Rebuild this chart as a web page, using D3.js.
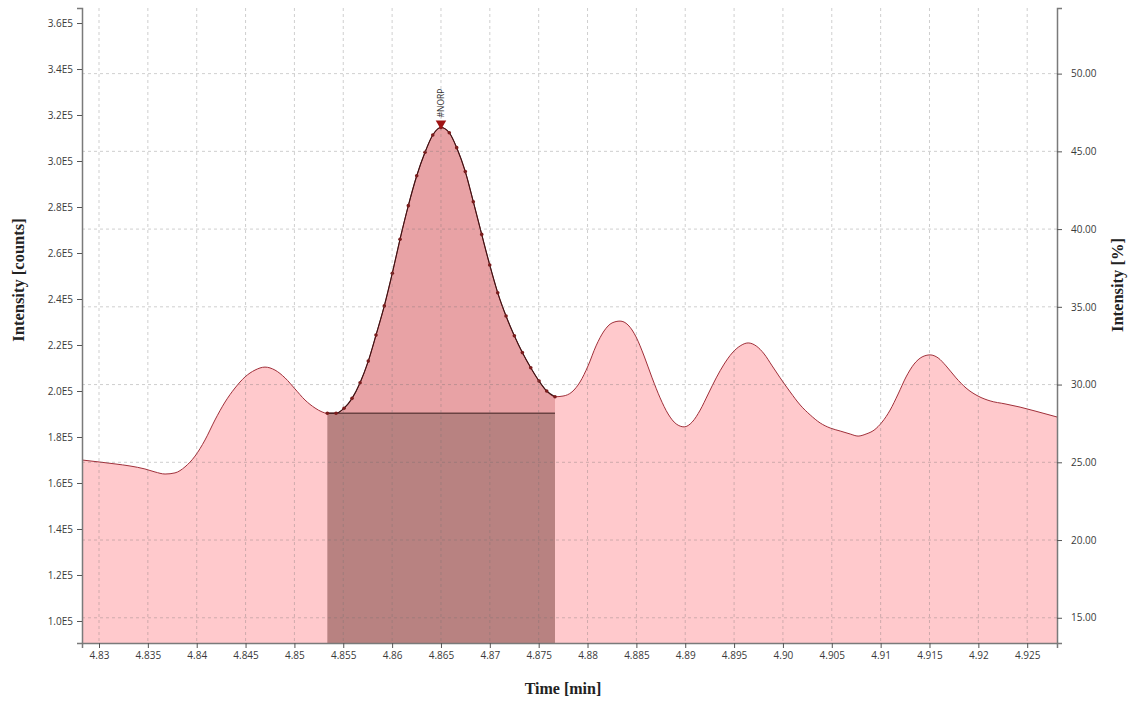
<!DOCTYPE html>
<html>
<head>
<meta charset="utf-8">
<script src="https://cdn.jsdelivr.net/npm/d3@7"></script>
<style>
  html, body { margin: 0; padding: 0; background: #ffffff; }
  svg { display: block; }
</style>
</head>
<body>
<svg id="chart" width="1141" height="702"></svg>
<script>
// ---- data ----
const timeMin = [
  4.82826, 4.8301, 4.83164, 4.83317, 4.8347, 4.83573, 4.83676, 4.83778, 4.8388, 4.83983,
  4.84085, 4.84187, 4.8429, 4.84392, 4.84494, 4.84597, 4.84699, 4.84801, 4.84904, 4.85006,
  4.85108, 4.85211, 4.85283,
  4.85337, 4.85426, 4.85508, 4.8559, 4.85672, 4.85756, 4.85835, 4.8592, 4.86002, 4.86081,
  4.86166, 4.86252, 4.86337, 4.86416, 4.865, 4.86585, 4.86661, 4.86749, 4.86831, 4.86917,
  4.86999, 4.87081, 4.87166, 4.87251, 4.87333, 4.87419, 4.87504, 4.87582, 4.87667,
  4.87749, 4.87841, 4.87923, 4.88005, 4.88087, 4.88169, 4.88251, 4.88333, 4.88415, 4.88497,
  4.88579, 4.88661, 4.88743, 4.88825, 4.88907, 4.88989, 4.89071, 4.89153, 4.89235, 4.89317,
  4.89398, 4.8948, 4.89562, 4.89644, 4.89726, 4.89808, 4.8989, 4.89972, 4.90074, 4.90177,
  4.90279, 4.90381, 4.90484, 4.90586, 4.90688, 4.90769, 4.90851, 4.90933, 4.91015, 4.91097,
  4.91179, 4.9126, 4.91342, 4.91424, 4.91506, 4.91588, 4.9167, 4.91772, 4.91874, 4.91997,
  4.9212, 4.92273, 4.92427, 4.9258, 4.92805
];
const counts = [
  170000, 169100, 168300, 167400, 166100, 164800, 163900, 164400, 167000, 171700,
  178700, 187400, 195200, 201300, 206100, 209100, 210400, 209100, 205700, 200900,
  196100, 192600, 190900,
  190300, 190300, 192500, 196800, 203600, 213000, 224300, 237000, 251200, 266000,
  280600, 293600, 303800, 311300, 314600, 312300, 305800, 295400, 282300, 268100,
  254800, 242700, 232600, 224000, 216700, 210100, 204300, 200000, 197500,
  197800, 199600, 203900, 210900, 219600, 226100, 229600, 230400, 228700, 223500,
  215200, 205700, 197000, 190000, 185700, 184400, 186500, 191700, 198700, 205700,
  211700, 216500, 219600, 220900, 219600, 216100, 210900, 205700, 199600, 193900,
  189600, 186100, 183900, 182600, 181300, 180400, 181300, 183000, 186500, 191700,
  198700, 206100, 211700, 214800, 215700, 214400, 210900, 205700, 201300, 197800,
  195700, 194400, 193000, 191300, 188700
];

// integrated peak
const peakStart = 4.85337;
const peakEnd = 4.87667;
const peakBaseline = 190300;
const peakApexTime = 4.865;
const peakApexCounts = 314600;
const peakLabel = "#NORP";

// axes
const timeDomain = [4.82826, 4.92805];
const countsDomain = [90430, 366530];
const percentDivisor = 6760; // counts per 1 %
const xTickValues = [4.83, 4.835, 4.84, 4.845, 4.85, 4.855, 4.86, 4.865, 4.87, 4.875,
                     4.88, 4.885, 4.89, 4.895, 4.90, 4.905, 4.91, 4.915, 4.92, 4.925];
const xTickLabels = ["4.83", "4.835", "4.84", "4.845", "4.85", "4.855", "4.86", "4.865", "4.87", "4.875",
                     "4.88", "4.885", "4.89", "4.895", "4.90", "4.905", "4.91", "4.915", "4.92", "4.925"];
const yTickValues = [100000, 120000, 140000, 160000, 180000, 200000, 220000, 240000, 260000,
                     280000, 300000, 320000, 340000, 360000];
const yTickLabels = ["1.0E5", "1.2E5", "1.4E5", "1.6E5", "1.8E5", "2.0E5", "2.2E5", "2.4E5", "2.6E5",
                     "2.8E5", "3.0E5", "3.2E5", "3.4E5", "3.6E5"];
const pctTickValues = [15, 20, 25, 30, 35, 40, 45, 50];
const pctTickLabels = ["15.00", "20.00", "25.00", "30.00", "35.00", "40.00", "45.00", "50.00"];

const xTitle = "Time [min]";
const yTitle = "Intensity [counts]";
const y2Title = "Intensity [%]";

// ---- layout ----
const plot = { left: 82, right: 1057, top: 8, bottom: 643 };

const svg = d3.select("#chart");
const x = d3.scaleLinear().domain(timeDomain).range([plot.left, plot.right]);
const y = d3.scaleLinear().domain(countsDomain).range([plot.bottom, plot.top]);
const y2 = d3.scaleLinear().domain(countsDomain.map(d => d / percentDivisor)).range([plot.bottom, plot.top]);

const pts = timeMin.map((t, i) => ({ t, v: counts[i] }));
const peakPts = pts.filter(p => p.t >= peakStart - 1e-6 && p.t <= peakEnd + 1e-6);

svg.append("defs").append("clipPath").attr("id", "clip")
  .append("rect").attr("x", plot.left).attr("y", plot.top)
  .attr("width", plot.right - plot.left).attr("height", plot.bottom - plot.top);

const g = svg.append("g").attr("clip-path", "url(#clip)");

const curve = d3.curveMonotoneX;

// full trace area
g.append("path").datum(pts)
  .attr("d", d3.area().curve(curve).x(d => x(d.t)).y0(plot.bottom).y1(d => y(d.v)))
  .attr("fill", "#ffc9cc");

// peak area above baseline
g.append("path").datum(peakPts)
  .attr("d", d3.area().curve(curve).x(d => x(d.t)).y0(y(peakBaseline)).y1(d => y(d.v)))
  .attr("fill", "#e8a2a5");

// below-baseline block
g.append("rect")
  .attr("x", x(peakStart)).attr("y", y(peakBaseline))
  .attr("width", x(peakEnd) - x(peakStart))
  .attr("height", plot.bottom - y(peakBaseline))
  .attr("fill", "#b88281");

// grid
const grid = svg.append("g");
grid.selectAll("line.vx").data(xTickValues).enter().append("line")
  .attr("x1", d => x(d)).attr("x2", d => x(d))
  .attr("y1", plot.top).attr("y2", plot.bottom)
  .attr("stroke", "rgba(110,110,110,0.33)").attr("stroke-width", 1)
  .attr("stroke-dasharray", "3,3");
grid.selectAll("line.hy").data(pctTickValues).enter().append("line")
  .attr("x1", plot.left).attr("x2", plot.right)
  .attr("y1", d => y2(d)).attr("y2", d => y2(d))
  .attr("stroke", "rgba(110,110,110,0.33)").attr("stroke-width", 1)
  .attr("stroke-dasharray", "3,3");

// trace line
g.append("path").datum(pts)
  .attr("d", d3.line().curve(curve).x(d => x(d.t)).y(d => y(d.v)))
  .attr("fill", "none").attr("stroke", "#a0303a").attr("stroke-width", 1);

// baseline
g.append("line")
  .attr("x1", x(peakStart)).attr("x2", x(peakEnd))
  .attr("y1", y(peakBaseline)).attr("y2", y(peakBaseline))
  .attr("stroke", "#6a4343").attr("stroke-width", 1.5);

// peak line + sample dots
g.append("path").datum(peakPts)
  .attr("d", d3.line().curve(curve).x(d => x(d.t)).y(d => y(d.v)))
  .attr("fill", "none").attr("stroke", "#3a1414").attr("stroke-width", 1.1);
g.selectAll("circle.pk").data(peakPts).enter().append("circle")
  .attr("cx", d => x(d.t)).attr("cy", d => y(d.v)).attr("r", 1.8)
  .attr("fill", "#7a1c1c");

// apex marker
const ax = x(peakApexTime), ay = y(peakApexCounts);
svg.append("path")
  .attr("d", d3.symbol().type(d3.symbolTriangle).size(48))
  .attr("transform", `translate(${ax},${ay - 4}) rotate(180)`)
  .attr("fill", "#a01414");
svg.append("text")
  .attr("transform", `translate(${ax + 3},${ay - 10}) rotate(-90)`)
  .attr("font-family", "Open Sans, sans-serif").attr("font-size", 8.5)
  .attr("fill", "#333").text(peakLabel);

// axes
const axisColor = "#7a7a7a";
const tickFont = "Open Sans, Noto Sans, sans-serif";

const xAxis = svg.append("g").attr("transform", `translate(0,${plot.bottom})`)
  .call(d3.axisBottom(x).tickValues(xTickValues).tickFormat((d, i) => xTickLabels[i]).tickSizeOuter(0).tickSize(5).tickPadding(4));
const yAxis = svg.append("g").attr("transform", `translate(${plot.left},0)`)
  .call(d3.axisLeft(y).tickValues(yTickValues).tickFormat((d, i) => yTickLabels[i]).tickSizeOuter(0).tickSize(5).tickPadding(4));
const y2Axis = svg.append("g").attr("transform", `translate(${plot.right},0)`)
  .call(d3.axisRight(y2).tickValues(pctTickValues).tickFormat((d, i) => pctTickLabels[i]).tickSizeOuter(0).tickSize(5).tickPadding(9));

[xAxis, yAxis, y2Axis].forEach(a => {
  a.select(".domain").attr("stroke", axisColor).attr("stroke-width", 1.5);
  a.selectAll(".tick line").attr("stroke", "#555").attr("stroke-width", 1);
  a.selectAll(".tick text").attr("font-family", tickFont).attr("font-size", 10).attr("fill", "#3a3a3a");
});

// titles
const titleFont = "Liberation Serif, DejaVu Serif, serif";
svg.append("text").attr("x", 563).attr("y", 694)
  .attr("text-anchor", "middle").attr("font-family", titleFont)
  .attr("font-weight", "bold").attr("font-size", 16).attr("fill", "#222").text(xTitle);
svg.append("text").attr("transform", `translate(24,280) rotate(-90)`)
  .attr("text-anchor", "middle").attr("font-family", titleFont)
  .attr("font-weight", "bold").attr("font-size", 16.5).attr("fill", "#222").text(yTitle);
svg.append("text").attr("transform", `translate(1123,285) rotate(-90)`)
  .attr("text-anchor", "middle").attr("font-family", titleFont)
  .attr("font-weight", "bold").attr("font-size", 16.5).attr("fill", "#222").text(y2Title);
</script>
</body>
</html>
